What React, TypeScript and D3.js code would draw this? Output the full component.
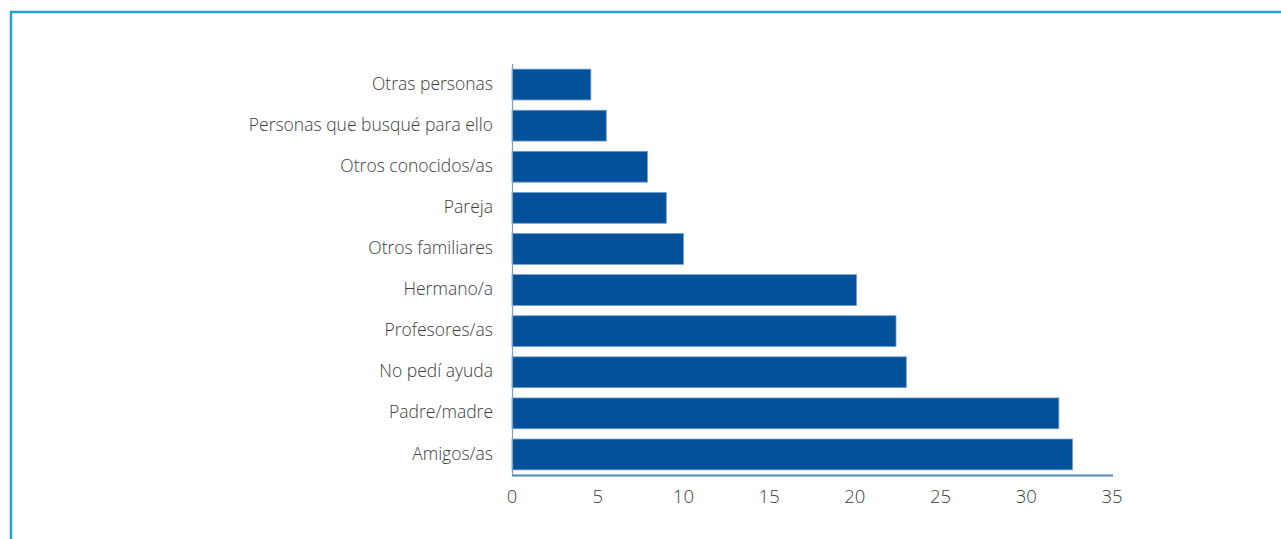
import * as d3 from "d3";
import React from "react";

const categories = [
  "Otras personas",
  "Personas que busqué para ello",
  "Otros conocidos/as",
  "Pareja",
  "Otros familiares",
  "Hermano/a",
  "Profesores/as",
  "No pedí ayuda",
  "Padre/madre",
  "Amigos/as",
];
const values = [4.6, 5.5, 7.9, 9.0, 10.0, 20.1, 22.4, 23.0, 31.9, 32.7];
const xTicks = [0, 5, 10, 15, 20, 25, 30, 35];

const width = 1281;
const height = 539;
const margin = { left: 512, right: 169, top: 64, bottom: 64 };
const font = "'Open Sans', 'DejaVu Sans', sans-serif";

export default function App() {
  const innerW = width - margin.left - margin.right;
  const innerH = height - margin.top - margin.bottom;

  const x = d3.scaleLinear().domain([0, 35]).range([0, innerW]);
  const y = d3
    .scaleBand<string>()
    .domain(categories)
    .range([0, innerH])
    .paddingInner(0.25)
    .paddingOuter(0.125);

  return (
    <svg
      width={width}
      height={height}
      style={{ position: "absolute", left: 0, top: 0, display: "block", background: "#fff" }}
    >
      {/* frame */}
      <path d={`M11,${height} L11,12 L${width},12`} fill="none" stroke="#2a9dd8" strokeWidth={2.5} />
      <g transform={`translate(${margin.left},${margin.top})`}>
        {categories.map((c, i) => (
          <rect
            key={c}
            x={x(0)}
            y={y(c)}
            width={x(values[i]) - x(0)}
            height={y.bandwidth()}
            fill="#03519b"
            stroke="#6f9dd0"
            strokeWidth={0.8}
          />
        ))}
        <line x1={0.5} x2={0.5} y1={0} y2={innerH} stroke="#7d9fc6" strokeWidth={1.2} />
        <line x1={0} x2={innerW + 1} y1={innerH + 0.5} y2={innerH + 0.5} stroke="#4f86bf" strokeWidth={2} />
        {categories.map((c) => (
          <text
            key={c}
            x={-19}
            y={(y(c) ?? 0) + y.bandwidth() / 2 - 1}
            dy="0.35em"
            textAnchor="end"
            fontFamily={font}
            fontWeight={300}
            fontSize={17.5}
            fill="#3c3c3c"
          >
            {c}
          </text>
        ))}
        {xTicks.map((t) => (
          <text
            key={t}
            x={x(t)}
            y={innerH + 22}
            dy="0.35em"
            textAnchor="middle"
            fontFamily={font}
            fontWeight={300}
            fontSize={18.5}
            fill="#3c3c3c"
          >
            {t}
          </text>
        ))}
      </g>
    </svg>
  );
}
